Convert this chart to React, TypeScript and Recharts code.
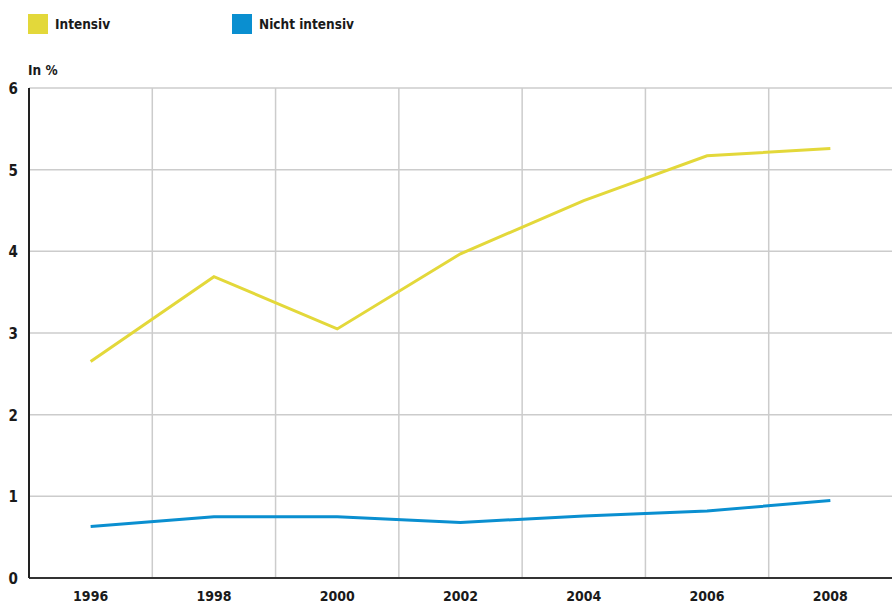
import React from "react";
import { LineChart, Line, XAxis, YAxis, CartesianGrid, ReferenceLine } from "recharts";

const years = [1996, 1998, 2000, 2002, 2004, 2006, 2008];
const intensiv = [2.65, 3.69, 3.05, 3.97, 4.62, 5.17, 5.26];
const nichtIntensiv = [0.63, 0.75, 0.75, 0.68, 0.76, 0.82, 0.95];
const yTicks = [0, 1, 2, 3, 4, 5, 6];
const gridYears = [1997, 1999, 2001, 2003, 2005, 2007];

const series = [
  { key: "intensiv", name: "Intensiv", color: "#e3d83a" },
  { key: "nicht", name: "Nicht intensiv", color: "#0a8fd0" },
];

const data = years.map((year, i) => ({
  year,
  intensiv: intensiv[i],
  nicht: nichtIntensiv[i],
}));

const FONT = "'DejaVu Sans Condensed', 'DejaVu Sans', sans-serif";

const XTick = (props: any) => {
  const { x, y, payload } = props;
  return (
    <text x={x} y={y + 15} textAnchor="middle" fontFamily={FONT} fontWeight="bold" fontSize={14} fill="#1a1a1a">
      {payload.value}
    </text>
  );
};

const YTick = (props: any) => {
  const { x, y, payload } = props;
  return (
    <text x={x - 3} y={y + 6} textAnchor="end" fontFamily={FONT} fontWeight="bold" fontSize={15} fill="#1a1a1a">
      {payload.value}
    </text>
  );
};

export default function App() {
  return (
    <div style={{ position: "absolute", left: 0, top: 0, width: 892, height: 603, background: "#fff", fontFamily: FONT }}>
      {series.map((s, i) => (
        <div
          key={s.key}
          style={{ position: "absolute", left: i === 0 ? 28 : 232, top: 14, display: "flex", alignItems: "center" }}
        >
          <div style={{ width: 20, height: 20, background: s.color }} />
          <span style={{ marginLeft: 7, fontSize: 13.5, fontWeight: "bold", color: "#1a1a1a" }}>{s.name}</span>
        </div>
      ))}
      <div style={{ position: "absolute", left: 28, top: 62, fontSize: 13.5, fontWeight: "bold", color: "#1a1a1a" }}>In %</div>
      <LineChart width={892} height={603} data={data} margin={{ top: 88, right: 0, left: 0, bottom: 0 }}>
        <CartesianGrid vertical={false} stroke="#cccccc" strokeWidth={1.5} />
        {gridYears.map((g) => (
          <ReferenceLine key={g} x={g} stroke="#cccccc" strokeWidth={1.5} />
        ))}
        <XAxis
          dataKey="year"
          type="number"
          domain={[1995, 2009]}
          ticks={years}
          height={25}
          tickLine={false}
          axisLine={{ stroke: "#333", strokeWidth: 2 }}
          tick={<XTick />}
          interval={0}
        />
        <YAxis
          type="number"
          domain={[0, 6]}
          ticks={yTicks}
          width={29}
          tickLine={false}
          axisLine={{ stroke: "#222", strokeWidth: 2 }}
          tick={<YTick />}
          interval={0}
        />
        {series.map((s) => (
          <Line
            key={s.key}
            dataKey={s.key}
            name={s.name}
            stroke={s.color}
            strokeWidth={3}
            dot={false}
            activeDot={false}
            isAnimationActive={false}
          />
        ))}
      </LineChart>
    </div>
  );
}
